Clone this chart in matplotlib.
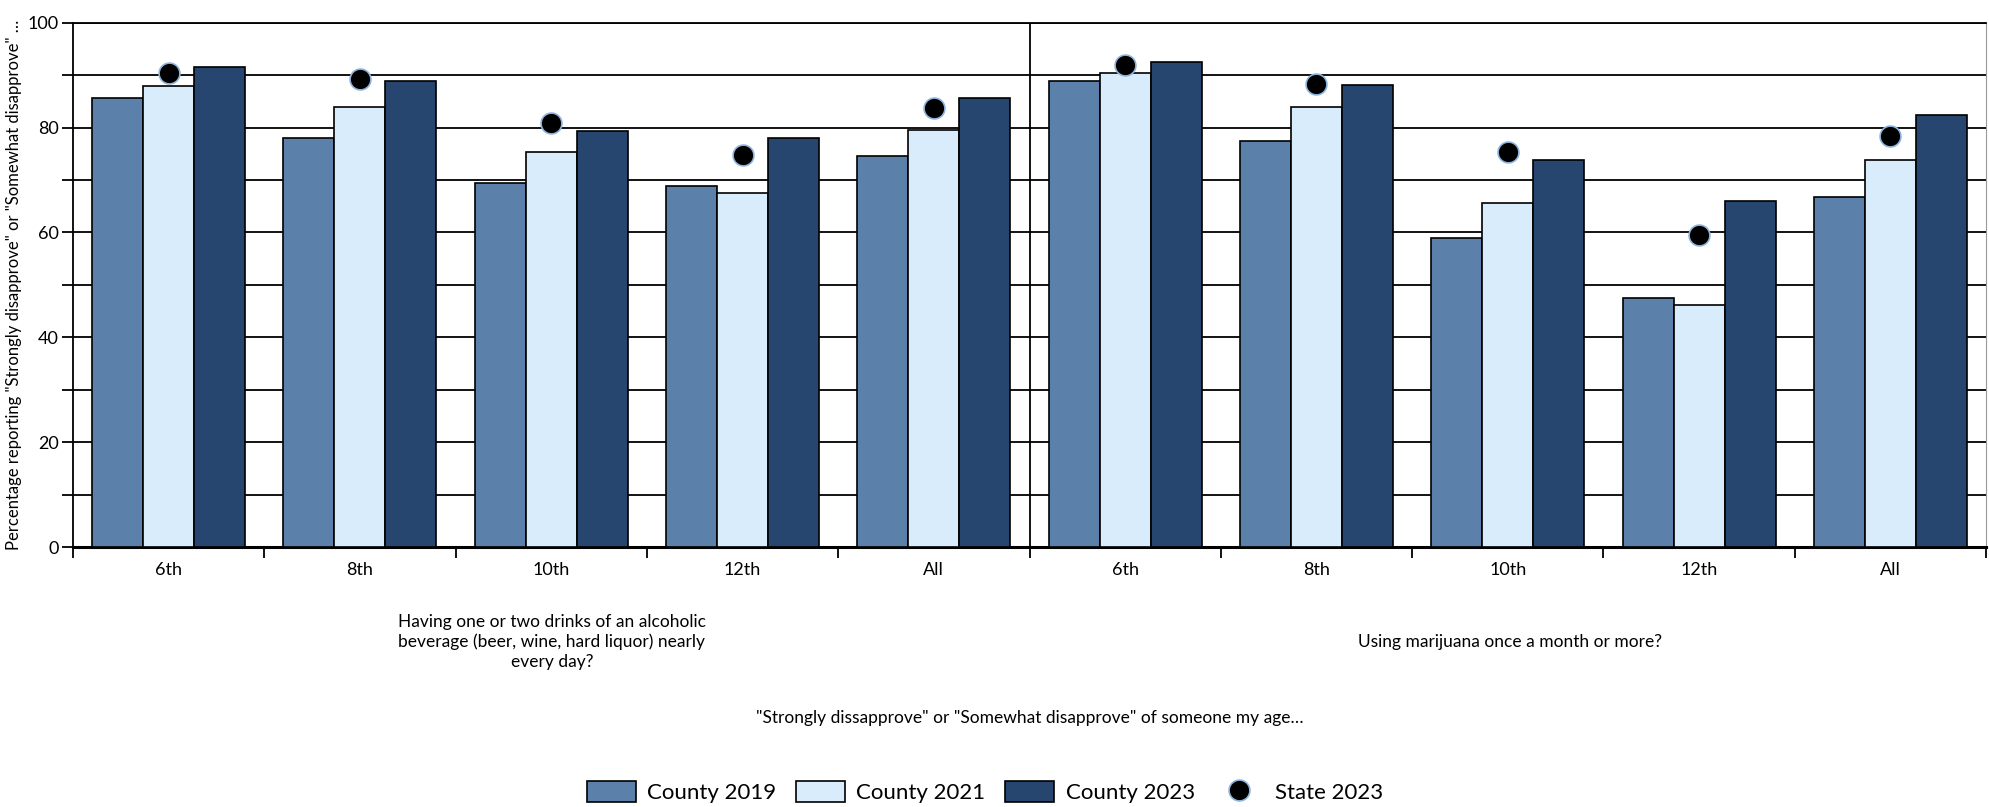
import matplotlib
matplotlib.use('Agg')
import matplotlib.pyplot as plt
import numpy as np

plt.rcParams['font.family'] = ['Lato', 'DejaVu Sans']

grades = ['6th', '8th', '10th', '12th', 'All', '6th', '8th', '10th', '12th', 'All']
questions = ['Having one or two drinks of an alcoholic\nbeverage (beer, wine, hard liquor) nearly\nevery day?',
             'Using marijuana once a month or more?']
series_names = ['County 2019', 'County 2021', 'County 2023']
county_2019 = [85.6, 78.1, 69.5, 68.9, 74.5, 88.9, 77.4, 58.9, 47.5, 66.7]
county_2021 = [87.9, 84.0, 75.4, 67.5, 79.6, 90.5, 84.0, 65.7, 46.2, 73.8]
county_2023 = [91.5, 88.9, 79.4, 78.1, 85.6, 92.5, 88.2, 73.8, 66.0, 82.4]
state_2023 = [90.5, 89.2, 80.9, 74.8, 83.7, 91.9, 88.4, 75.4, 59.5, 78.4]

colors = ['#5b80a9', '#d8ecfc', '#26456f']

W, H = 1990, 807
fig = plt.figure(figsize=(W / 100, H / 100), dpi=100)
ax = fig.add_axes([73 / W, 1 - 547 / H, (1986 - 73) / W, (547 - 22.7) / H])

x = np.arange(len(grades))
w = 0.8 / 3
handles = []
for i, (vals, c) in enumerate(zip([county_2019, county_2021, county_2023], colors)):
    b = ax.bar(x + (i - 1) * w, vals, width=w, color=c, edgecolor='black', linewidth=1.2,
               label=series_names[i], zorder=3)
    handles.append(b)
dots, = ax.plot(x, state_2023, 'o', color='black', markersize=15, markeredgecolor='#8fb4dc',
                markeredgewidth=1.2, linestyle='none', label='State 2023', zorder=4)
handles.append(dots)

ax.set_xlim(-0.5, len(grades) - 0.5)
ax.set_ylim(0, 100)
ax.set_yticks(np.arange(0, 101, 20))
ax.set_yticks(np.arange(0, 101, 10), minor=True)
ax.yaxis.grid(True, which='both', color='black', linewidth=1.3, zorder=0)
ax.tick_params(axis='y', which='both', length=8, width=1.3, labelsize=13, pad=2)

ax.set_xticks(x)
ax.set_xticklabels(grades, fontsize=13)
ax.set_xticks(np.arange(-0.5, len(grades), 1), minor=True)
ax.tick_params(axis='x', which='major', length=0, pad=11)
ax.tick_params(axis='x', which='minor', length=8, width=1.3)
ax.axvline(4.5, color='black', linewidth=1.3, zorder=2)

for s in ['left', 'top']:
    ax.spines[s].set_linewidth(1.3)
ax.spines['bottom'].set_linewidth(2.2)
ax.spines['right'].set_color('#999999')
ax.spines['right'].set_linewidth(0.8)

ax.set_ylabel('Percentage reporting "Strongly disapprove" or "Somewhat disapprove" \u2026',
              fontsize=12, labelpad=4)

# question labels under each half
fig.text(552 / W, 1 - 642 / H, questions[0], ha='center', va='center', fontsize=12.5,
         linespacing=1.3)
fig.text(1510 / W, 1 - 642 / H, questions[1], ha='center', va='center', fontsize=12.5)
fig.text((73 + 1986) / 2 / W, 1 - 718 / H,
         '"Strongly dissapprove" or "Somewhat disapprove" of someone my age\u2026',
         ha='center', va='center', fontsize=12.5)

fig.legend(handles=handles, labels=series_names + ['State 2023'], loc='center',
           bbox_to_anchor=(985 / W, 1 - 792 / H), ncol=4, frameon=False,
           fontsize=16, handlelength=2.2, handleheight=1.1, columnspacing=0.9, handletextpad=0.5)

fig.savefig('out.png', dpi=100)
